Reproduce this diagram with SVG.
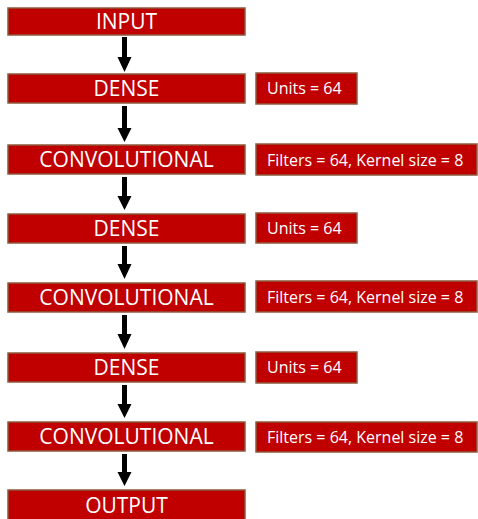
<svg xmlns="http://www.w3.org/2000/svg" width="478" height="519" viewBox="0 0 478 519">
<style>
.box{fill:#c00000;stroke:#8c5a3c;stroke-width:1.5}
.main{font-family:"Open Sans","Liberation Sans",Arial,sans-serif;font-size:21px;fill:#ffffff;text-anchor:middle}
.side{font-family:"Open Sans","Liberation Sans",Arial,sans-serif;font-size:16px;fill:#ffffff}
.shaft{fill:#000}
</style>
<rect width="478" height="519" fill="#ffffff"/>
<g id="connectors">
<path class="shaft" d="M122 37H127V57H131.5L124.5 72L117.5 57H122Z"/>
<path class="shaft" d="M122 106H127V128H131.5L124.5 142L117.5 128H122Z"/>
<path class="shaft" d="M122 177H127V196H131.5L124.5 210L117.5 196H122Z"/>
<path class="shaft" d="M122 246H127V264H131.5L124.5 279L117.5 264H122Z"/>
<path class="shaft" d="M122 315H127V334H131.5L124.5 349L117.5 334H122Z"/>
<path class="shaft" d="M122 385H127V404H131.5L124.5 418L117.5 404H122Z"/>
<path class="shaft" d="M122 454H127V472H131.5L124.5 486L117.5 472H122Z"/>
</g>
<g id="input"><rect class="box" x="8" y="8" width="237" height="27"/><text class="main" x="126.5" y="29">INPUT</text></g>
<g id="dense1"><rect class="box" x="8" y="74" width="237" height="29"/><text class="main" x="126.5" y="96">DENSE</text></g>
<g id="conv1"><rect class="box" x="8" y="145" width="237" height="29"/><text class="main" x="126.5" y="167">CONVOLUTIONAL</text></g>
<g id="dense2"><rect class="box" x="8" y="214" width="237" height="29"/><text class="main" x="126.5" y="236">DENSE</text></g>
<g id="conv2"><rect class="box" x="8" y="283" width="237" height="29"/><text class="main" x="126.5" y="305">CONVOLUTIONAL</text></g>
<g id="dense3"><rect class="box" x="8" y="353" width="237" height="29"/><text class="main" x="126.5" y="375">DENSE</text></g>
<g id="conv3"><rect class="box" x="8" y="422" width="237" height="29"/><text class="main" x="126.5" y="444">CONVOLUTIONAL</text></g>
<g id="output"><rect class="box" x="8" y="490" width="237" height="30"/><text class="main" x="126.5" y="512.5">OUTPUT</text></g>
<g id="units1"><rect class="box" x="256" y="73" width="101" height="31"/><text class="side" x="267" y="94">Units = 64</text></g>
<g id="filters1"><rect class="box" x="256" y="144" width="221" height="31"/><text class="side" x="267" y="165.5">Filters = 64, Kernel size = 8</text></g>
<g id="units2"><rect class="box" x="256" y="213" width="101" height="30"/><text class="side" x="267" y="233.5">Units = 64</text></g>
<g id="filters2"><rect class="box" x="256" y="281" width="221" height="31"/><text class="side" x="267" y="302.5">Filters = 64, Kernel size = 8</text></g>
<g id="units3"><rect class="box" x="256" y="352" width="101" height="31"/><text class="side" x="267" y="373">Units = 64</text></g>
<g id="filters3"><rect class="box" x="256" y="422" width="221" height="30"/><text class="side" x="267" y="442.5">Filters = 64, Kernel size = 8</text></g>
</svg>
